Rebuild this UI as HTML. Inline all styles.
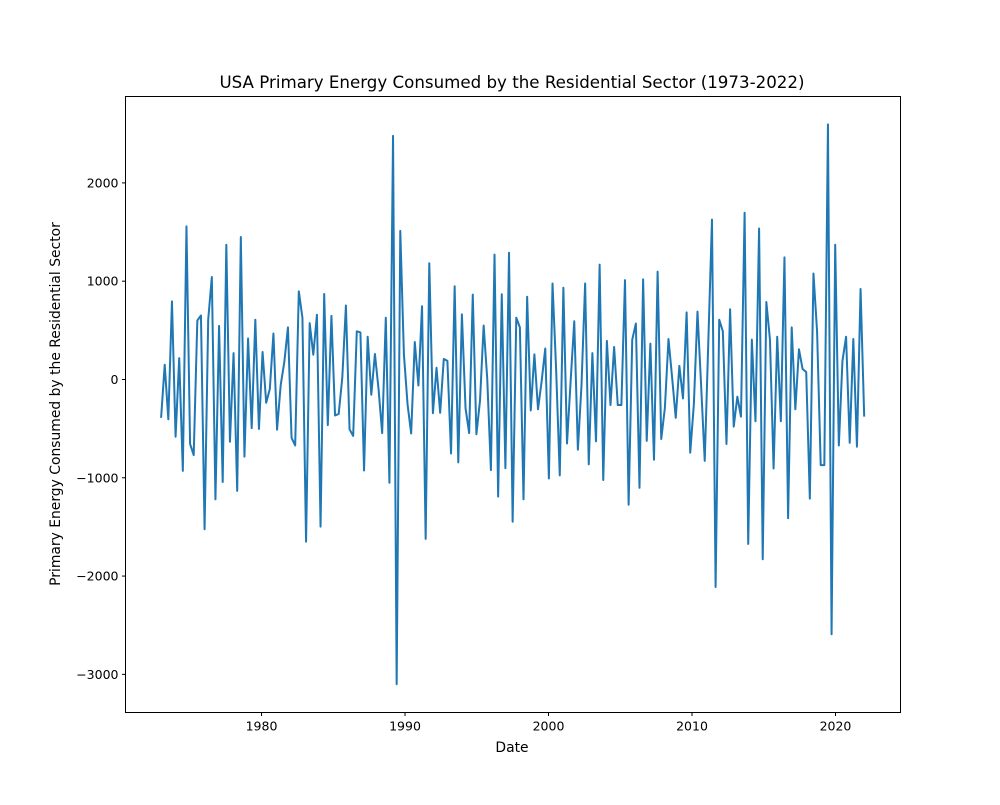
<!DOCTYPE html>
<html><head><meta charset="utf-8"><style>
body{margin:0;background:#fff;}
svg text{font-family:"DejaVu Sans","Liberation Sans",sans-serif;fill:#000;}
</style></head><body>
<svg id="chart" width="1000" height="800" viewBox="0 0 1000 800" xmlns="http://www.w3.org/2000/svg">
<rect x="0" y="0" width="1000" height="800" fill="#fff"/>
<text x="512" y="88" font-size="16.67" text-anchor="middle">USA Primary Energy Consumed by the Residential Sector (1973-2022)</text>
<text x="512" y="752" font-size="13.9" text-anchor="middle">Date</text>
<text transform="translate(60,404) rotate(-90)" font-size="13.9" text-anchor="middle">Primary Energy Consumed by the Residential Sector</text>
<g id="marks"></g>
<rect x="125.5" y="96.5" width="775" height="616" fill="none" stroke="#000" stroke-width="1"/>
</svg>
<script>
const values = [-390,150,-405,795,-582,217,-930,1558,-656,-769,600,651,-1524,608,1043,-1219,545,-1043,1371,-633,268,-1133,1450,-785,417,-495,608,-503,280,-237,-97,468,-511,-57,178,530,-593,-671,897,628,-1650,573,252,659,-1497,870,-464,647,-366,-351,20,753,
-507,-574,490,479,-926,435,-155,259,-97,-546,628,-1051,2478,-3100,1512,256,-252,-549,381,-61,745,-1622,1183,-343,119,-339,209,189,-753,948,-843,663,-292,-546,863,-557,-214,549,2,-922,1270,-1192,867,-902,1289,-1447,628,530,-1219,842,-315,256,-303,
-18,315,-1007,977,102,-976,933,-651,-18,592,-714,-57,977,-863,268,-629,1168,-1023,393,-260,331,-260,-260,1011,-1274,405,570,-1102,1019,-624,365,-816,1097,-605,-292,412,21,-390,138,-193,683,-745,-252,690,-57,-828,
397,1626,-2111,608,490,-656,714,-480,-175,-378,1696,-1673,405,-425,1536,-1829,788,405,-905,435,-425,1242,-1411,530,-303,307,107,76,-1212,1078,490,-871,-871,2596,-2592,1371,-671,189,435,-644,412,-684,920,-378];
const startYear = 1973;
const endYear = 2022;
const xTicks = [1980,1990,2000,2010,2020];
const yTicks = [-3000,-2000,-1000,0,1000,2000];
const yTickLabels = ["\u22123000","\u22122000","\u22121000","0","1000","2000"];

const NS="http://www.w3.org/2000/svg";
const L=125.5,R=900.5,T=96.5,B=712.5;
const xMin=1970.52,xMax=2024.53,yMin=-3388,yMax=2879;
function xs(v){return L+(v-xMin)/(xMax-xMin)*(R-L);}
function ys(v){return B-(v-yMin)/(yMax-yMin)*(B-T);}
const stepYears=(endYear-startYear)/(values.length-1);
const svg=document.getElementById('chart');
const g=document.getElementById('marks');
xTicks.forEach(t=>{
  const x=xs(t);
  const ln=document.createElementNS(NS,'line');
  ln.setAttribute('x1',x);ln.setAttribute('x2',x);ln.setAttribute('y1',B);ln.setAttribute('y2',B+3.5);
  ln.setAttribute('stroke','#000');
  
  
  svg.appendChild(ln);
  const tx=document.createElementNS(NS,'text');
  tx.setAttribute('x',x);tx.setAttribute('y',B+18);tx.setAttribute('font-size','12.5');tx.setAttribute('text-anchor','middle');
  tx.textContent=t;
  
  
  svg.appendChild(tx);
});
yTicks.forEach((t,i)=>{
  const y=ys(t);
  const ln=document.createElementNS(NS,'line');
  ln.setAttribute('x1',L-3.5);ln.setAttribute('x2',L);ln.setAttribute('y1',y);ln.setAttribute('y2',y);
  ln.setAttribute('stroke','#000');
  
  
  svg.appendChild(ln);
  const tx=document.createElementNS(NS,'text');
  tx.setAttribute('x',L-7);tx.setAttribute('y',y+4.5);tx.setAttribute('font-size','12.5');tx.setAttribute('text-anchor','end');
  tx.textContent=yTickLabels[i];
  
  
  svg.appendChild(tx);
});
const pts=values.map((v,i)=>xs(startYear+i*stepYears).toFixed(2)+','+ys(v).toFixed(2)).join(' ');
const pl=document.createElementNS(NS,'polyline');
pl.setAttribute('points',pts);
pl.setAttribute('fill','none');pl.setAttribute('stroke','#1f77b4');pl.setAttribute('stroke-width','2');pl.setAttribute('stroke-linejoin','round');


g.appendChild(pl);
</script>
</body></html>
